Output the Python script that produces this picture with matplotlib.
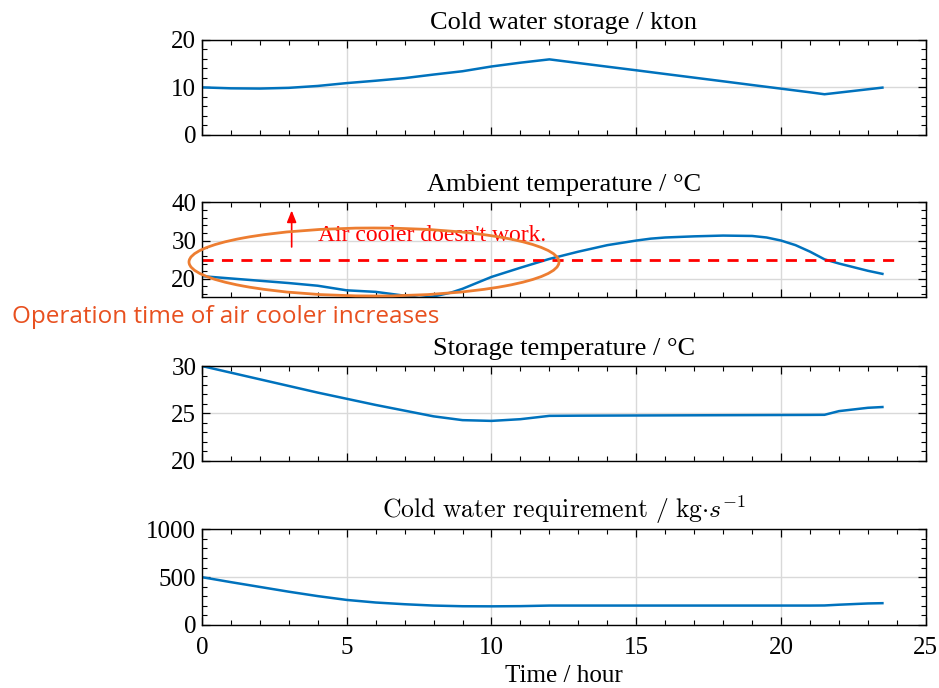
import numpy as np
import matplotlib
matplotlib.use("Agg")
import matplotlib.pyplot as plt
from matplotlib.patches import Ellipse
from matplotlib.ticker import MultipleLocator

plt.rcParams['font.family'] = ['Liberation Serif', 'DejaVu Serif']
plt.rcParams['mathtext.fontset'] = 'cm'

# ---- data ----
hours = [0, 1, 2, 3, 4, 5, 6, 7, 8, 9, 10, 11, 12, 13, 14, 15, 16, 17, 18, 19, 20, 21, 21.5, 22, 23, 23.5]

storage_kton = [10.0, 9.8, 9.75, 9.9, 10.3, 10.9, 11.4, 11.95, 12.7, 13.4, 14.4, 15.2, 15.9,
                15.13, 14.36, 13.6, 12.82, 12.05, 11.28, 10.5, 9.73, 8.96, 8.55, 8.9, 9.6, 9.95]

amb_hours = [0, 1, 2, 3, 4, 5, 6, 7, 7.5, 8, 8.6, 9, 10, 11, 12, 13, 14, 15, 15.5, 16, 17, 18, 19, 19.5, 20, 20.5, 21, 21.5, 22, 23, 23.5]
ambient_temp = [20.7, 20.1, 19.5, 18.9, 18.2, 17.0, 16.6, 15.6, 15.0, 15.4, 16.4, 17.4, 20.5, 22.9, 25.2, 27.1,
                28.8, 30.0, 30.5, 30.8, 31.1, 31.3, 31.2, 30.8, 30.0, 28.8, 27.1, 25.1, 24.0, 22.1, 21.3]

storage_temp = [30.0, 29.3, 28.6, 27.9, 27.2, 26.55, 25.9, 25.3, 24.7, 24.3, 24.22, 24.4, 24.75,
                24.77, 24.78, 24.79, 24.8, 24.81, 24.82, 24.83, 24.84, 24.85, 24.86, 25.25, 25.6, 25.68]

requirement = [500, 448, 398, 348, 302, 262, 235, 217, 203, 196, 195, 197, 203,
               203, 203, 203, 203, 203, 203, 203, 203, 203, 204, 212, 225, 228]

threshold = 25
threshold_x = [0, 24]

titles = ['Cold water storage / kton', 'Ambient temperature / °C', 'Storage temperature / °C',
          r'$\mathrm{Cold\ water\ requirement\ /\ kg}{\cdot}s^{-1}$']
title_sizes = [19, 19, 19, 18.5]

# ---- figure ----
fig = plt.figure(figsize=(9.39, 6.88), dpi=100)
L, W = 0.215, 0.771
boxes = [(0.804, 0.138), (0.568, 0.138), (0.330, 0.138), (0.0916, 0.139)]
axes = [fig.add_axes([L, b, W, h]) for b, h in boxes]

blue = '#0072BD'
ylims = [(0, 20), (15.2, 40), (20, 30), (0, 1000)]
ymaj = [10, 10, 5, 500]
ymin = [2, 2, 1, 100]

for i, ax in enumerate(axes):
    ax.set_xlim(0, 25)
    ax.set_ylim(*ylims[i])
    ax.xaxis.set_major_locator(MultipleLocator(5))
    ax.xaxis.set_minor_locator(MultipleLocator(1))
    ax.yaxis.set_major_locator(MultipleLocator(ymaj[i]))
    ax.yaxis.set_minor_locator(MultipleLocator(ymin[i]))
    ax.tick_params(which='both', direction='in', top=True, right=True, labelsize=18)
    ax.tick_params(which='major', length=6, width=0.9)
    ax.tick_params(which='minor', length=3.5, width=0.8)
    ax.tick_params(axis='x', pad=9)
    ax.tick_params(axis='y', pad=4)
    ax.grid(True, which='major', color='#d9d9d9', linewidth=1.0)
    ax.set_axisbelow(True)
    for s in ax.spines.values():
        s.set_linewidth(1.0)
    ax.set_title(titles[i], fontsize=title_sizes[i], pad=8)
    if i < 3:
        ax.tick_params(labelbottom=False)

axes[0].plot(hours, storage_kton, color=blue, lw=1.8)
axes[1].plot(amb_hours, ambient_temp, color=blue, lw=1.8)
axes[1].plot(threshold_x, [threshold, threshold], color='#FF0000', lw=2, linestyle=(0, (4, 3)))
axes[2].plot(hours, storage_temp, color=blue, lw=1.8)
axes[3].plot(hours, requirement, color=blue, lw=1.8)
axes[3].set_xlabel('Time / hour', fontsize=18, labelpad=4)

# annotations on the ambient temperature panel
ax = axes[1]
ax.annotate('', xy=(3.1, 38.6), xytext=(3.1, 27.6),
            arrowprops=dict(arrowstyle='-|>,head_length=0.7,head_width=0.28', color='#FF0000', lw=1.2))
ax.text(4.0, 31.3, "Air cooler doesn't work.", color='#FF0000', fontsize=17, va='center', ha='left')

ell = Ellipse((374 / 939, 1 - 262 / 688), 370 / 939, 68 / 688, transform=fig.transFigure,
              fill=False, edgecolor='#ED7D31', lw=2, clip_on=False)
fig.add_artist(ell)

fig.text(12 / 939, 1 - 317 / 688, 'Operation time of air cooler increases', color='#E8501F',
         fontsize=17.5, family=['Open Sans', 'DejaVu Sans'], va='center', ha='left')

fig.savefig('out.png', dpi=100)
